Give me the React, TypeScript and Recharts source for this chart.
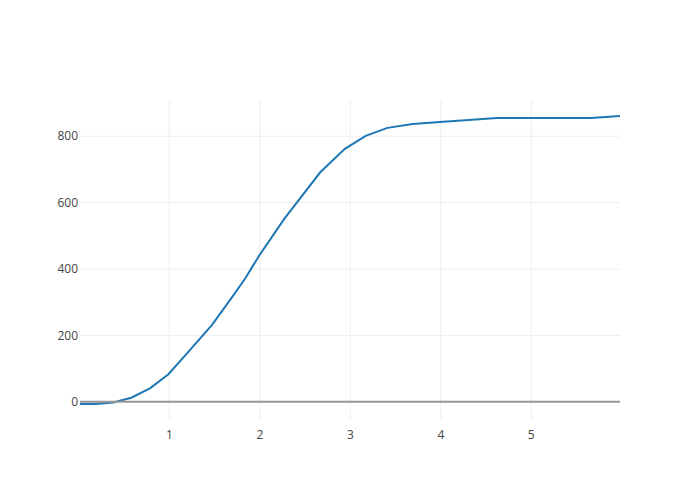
import React from "react";
import { LineChart, Line, XAxis, YAxis, CartesianGrid, ReferenceLine } from "recharts";

const xValues = [0.013, 0.19, 0.38, 0.58, 0.79, 0.99, 1.21, 1.47, 1.68, 1.84, 1.99, 2.27, 2.67, 2.94, 3.17, 3.41, 3.69, 3.99, 4.62, 5.66, 5.98];
const yValues = [-7, -7, -2, 12, 41, 83, 150, 231, 310, 372, 439, 551, 692, 762, 801, 825, 837, 843, 855, 855, 861];
const xTicks = [1, 2, 3, 4, 5];
const yTicks = [0, 200, 400, 600, 800];

const data = xValues.map((x, i) => ({ x, y: yValues[i] }));

const tickStyle = { fontFamily: "'Open Sans', sans-serif", fontSize: 12, fill: "#444" };

export default function App() {
  return (
    <div style={{ position: "absolute", left: 0, top: 0, width: 700, height: 500, background: "#fff" }}>
      <LineChart width={700} height={500} data={data} margin={{ top: 100, right: 80, bottom: 50, left: 40 }}>
        <CartesianGrid stroke="#eee" strokeWidth={1} horizontalValues={[200, 400, 600, 800]} verticalValues={xTicks} />
        <XAxis
          dataKey="x"
          type="number"
          domain={[0.013, 5.98]}
          ticks={xTicks}
          allowDataOverflow
          axisLine={false}
          tickLine={false}
          tickSize={0}
          tickMargin={10}
          height={30}
          tick={tickStyle}
        />
        <YAxis
          type="number"
          domain={[-55, 909]}
          ticks={yTicks}
          allowDataOverflow
          axisLine={false}
          tickLine={false}
          tickSize={0}
          tickMargin={2}
          width={40}
          tick={tickStyle}
        />
        <Line type="linear" dataKey="y" stroke="#1f77b4" strokeWidth={2} dot={false} isAnimationActive={false} />
        <ReferenceLine y={0} stroke="#969696" strokeWidth={2} />
      </LineChart>
    </div>
  );
}
